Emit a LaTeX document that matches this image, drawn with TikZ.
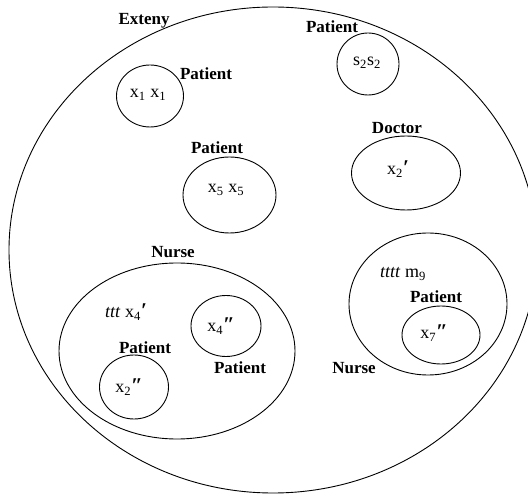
\documentclass[tikz,border=0pt]{standalone}
\usepackage{fontspec}
\setmainfont{Liberation Serif}
\usetikzlibrary{shapes.geometric}
\newcommand\myp{{\fontsize{21}{21}\selectfont\bfseries\itshape ′}}
\newcommand\mypp{{\fontsize{21}{21}\selectfont\bfseries\itshape ″}}
\begin{document}
\begin{tikzpicture}[x=1pt,y=-1pt,
  ring/.style={draw, ellipse, line width=0.9pt, inner sep=0pt},
  lbl/.style={font=\fontsize{17}{17}\selectfont\bfseries, inner sep=0pt},
  val/.style={font=\fontsize{18}{18}\selectfont, inner sep=0pt}]
\useasboundingbox (0,0) rectangle (528,494);
\begin{scope}
\clip (0,0) rectangle (528,494);
\node[ring, minimum width=528pt, minimum height=486pt] (ext) at (273,250) {};
\end{scope}
\node[lbl] (extl) at (144,21) {Exteny};
% Patient x1
\node[ring, minimum width=67pt, minimum height=62pt] (p1) at (150,96) {};
\node[val] (p1t) at (148,95) {x\textsubscript{1} x\textsubscript{1}};
\node[lbl] (p1l) at (206,74) {Patient};
% Patient s2
\node[ring, minimum width=62pt, minimum height=62pt] (p2) at (368,64) {};
\node[val] (p2t) at (367,63) {s\textsubscript{2}s\textsubscript{2}};
\node[lbl] (p2l) at (332,27) {Patient};
% Doctor
\node[ring, minimum width=109pt, minimum height=74pt] (doc) at (406,173) {};
\node[val] (doct) at (398,169) {x\textsubscript{2}\myp};
\node[lbl] (docl) at (397,128) {Doctor};
% Patient x5
\node[ring, minimum width=93pt, minimum height=76pt] (p5) at (229.5,195) {};
\node[val] (p5t) at (226,190) {x\textsubscript{5} x\textsubscript{5}};
\node[lbl] (p5l) at (217,148) {Patient};
% Nurse left
\node[ring, minimum width=236pt, minimum height=176pt] (n1) at (177,351) {};
\node[lbl] (n1l) at (173,252) {Nurse};
\node[val] (n1t) at (126,312) {\textit{ttt} x\textsubscript{4}\myp};
\node[ring, minimum width=70pt, minimum height=61pt] (p4) at (226,326) {};
\node[val] (p4t) at (221,326) {x\textsubscript{4}\mypp};
\node[lbl] (p4l) at (240,368) {Patient};
\node[ring, minimum width=69pt, minimum height=64pt] (p6) at (134,387) {};
\node[val] (p6t) at (129,387) {x\textsubscript{2}\mypp};
\node[lbl] (p6l) at (145,348) {Patient};
% Nurse right
\node[ring, minimum width=158pt, minimum height=142pt] (n2) at (428,304) {};
\node[val] (n2t) at (403,274) {\textit{tttt} m\textsubscript{9}};
\node[lbl] (n2l) at (354,368) {Nurse};
\node[ring, minimum width=78pt, minimum height=58pt] (p7) at (441,335) {};
\node[val] (p7t) at (434,333) {x\textsubscript{7}\mypp};
\node[lbl] (p7l) at (436,297) {Patient};
\end{tikzpicture}
\end{document}
